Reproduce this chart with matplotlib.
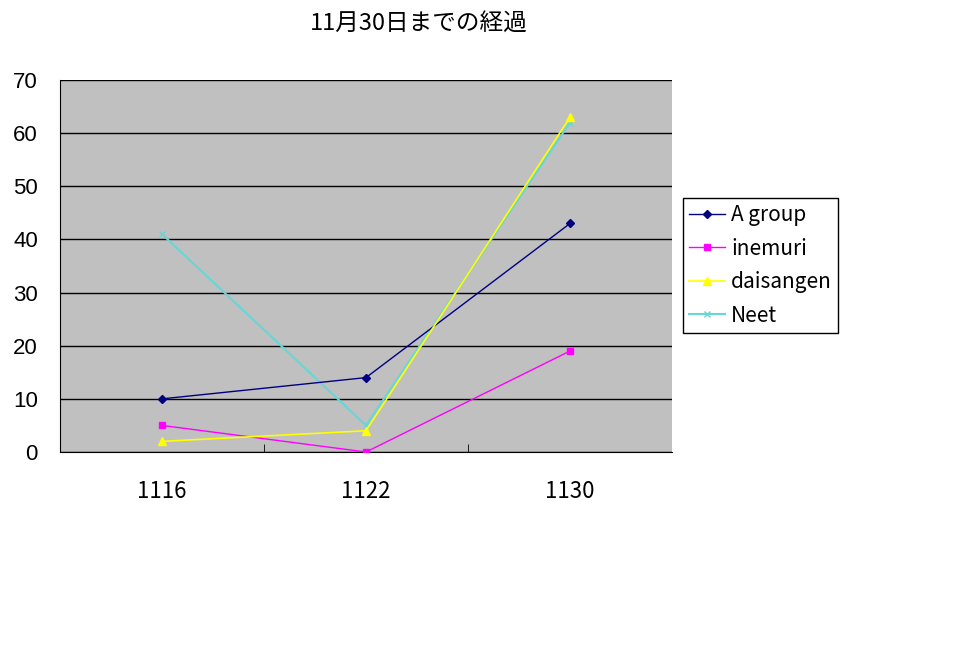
import matplotlib
matplotlib.use("Agg")
import matplotlib.pyplot as plt

categories = ["1116", "1122", "1130"]
a_group = [10, 14, 43]
inemuri = [5, 0, 19]
daisangen = [2, 4, 63]
neet = [41, 5, 62]
title = "11月30日までの経過"

plt.rcParams['font.family'] = ['Noto Sans CJK JP', 'DejaVu Sans']

fig = plt.figure(figsize=(9.62, 6.54), dpi=100)
W, H = 962, 654
ax = fig.add_axes([60 / W, (H - 452) / H, 612 / W, 372 / H])
ax.set_facecolor('#C0C0C0')

x = list(range(len(categories)))
ax.plot(x, a_group, color='#000080', marker='D', markersize=4, lw=1, label='A group', zorder=5)
ax.plot(x, inemuri, color='#FF00FF', marker='s', markersize=5, lw=1, label='inemuri', zorder=5)
ax.plot(x, daisangen, color='#FFFF00', marker='^', markersize=6, lw=1.2, label='daisangen', zorder=5)
ax.plot(x, neet, color='#66D6D6', marker='x', markersize=5, lw=1.5, label='Neet', zorder=4)

ax.set_xlim(-0.5, len(categories) - 0.5)
ax.set_ylim(0, 70)
ax.set_yticks(range(0, 71, 10))
ax.yaxis.grid(True, color='black', lw=1)
ax.set_axisbelow(True)

ax.set_xticks(x)
ax.set_xticklabels(categories, fontsize=16)
ax.set_xticks([0.5, 1.5], minor=True)
ax.tick_params(axis='x', which='major', length=0, pad=20)
ax.tick_params(axis='x', which='minor', length=6, direction='in', color='black')
ax.tick_params(axis='y', length=0, pad=16)
for lab in ax.get_yticklabels():
    lab.set_fontfamily('Liberation Sans')
    lab.set_fontsize(16)

for s in ['top', 'right']:
    ax.spines[s].set_visible(False)
ax.spines['left'].set_color('black')
ax.spines['bottom'].set_color('black')

fig.text(419 / W, 1 - 24 / H, title, ha='center', va='center', fontsize=17)

leg = fig.legend(loc='upper left', bbox_to_anchor=(683 / W, 1 - 198 / H),
                 fontsize=15, frameon=True, fancybox=False, framealpha=1,
                 edgecolor='black', handlelength=1.7, borderpad=0.3,
                 labelspacing=0.55, handletextpad=0.3, borderaxespad=0)
leg.get_frame().set_linewidth(1)

fig.savefig('out.png', dpi=100)
